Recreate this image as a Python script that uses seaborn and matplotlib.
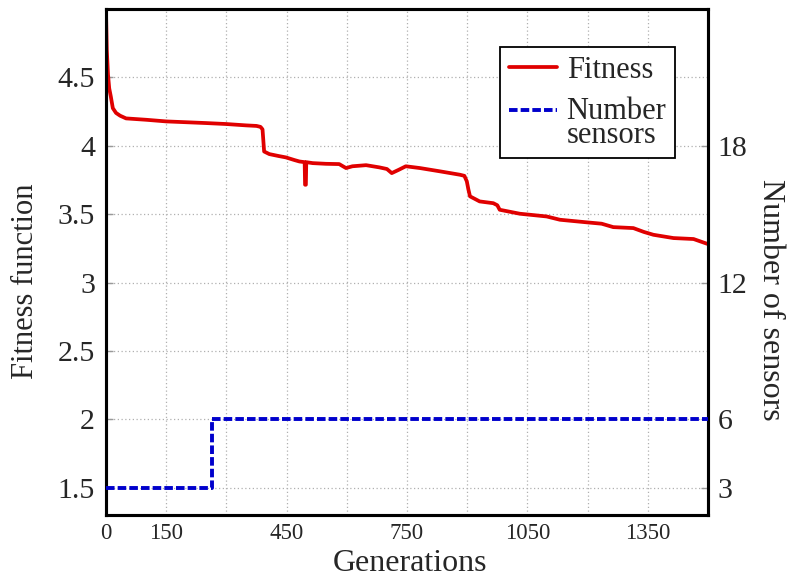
import numpy as np
import pandas as pd
import matplotlib
matplotlib.use("Agg")
import matplotlib.pyplot as plt
from matplotlib.legend_handler import HandlerLine2D
import seaborn as sns

# Fitness value per generation
fit_gen = [0, 2, 5, 8, 12, 17, 25, 35, 50, 75, 100, 150, 200, 249, 299,
           349, 375, 385, 390, 392, 394, 407, 430, 448, 470, 482, 495, 496,
           498, 499, 515, 548, 581, 598, 614, 648, 681, 700, 712, 730, 747,
           782, 832, 882, 893, 899, 903, 907, 931, 965, 975, 981, 1031,
           1098, 1131, 1198, 1235, 1264, 1314, 1340, 1364, 1414, 1464, 1497,
           1500]
fit_val = [4.98, 4.70, 4.52, 4.42, 4.36, 4.275, 4.24, 4.22, 4.20, 4.195,
           4.19, 4.178, 4.172, 4.166, 4.159, 4.149, 4.145, 4.138, 4.12,
           4.04, 3.958, 3.939, 3.925, 3.915, 3.895, 3.885, 3.88, 3.715,
           3.715, 3.88, 3.873, 3.868, 3.866, 3.837, 3.85, 3.858, 3.842,
           3.83, 3.80, 3.825, 3.85, 3.837, 3.813, 3.788, 3.78, 3.74, 3.68,
           3.63, 3.593, 3.58, 3.565, 3.532, 3.503, 3.483, 3.459, 3.44, 3.43,
           3.405, 3.398, 3.37, 3.349, 3.325, 3.318, 3.284, 3.282]

# Number of sensors (step changes)
sen_gen = [0, 264, 1500]
sen_val = [3, 6, 6]

x_ticks = [0, 150, 300, 450, 600, 750, 900, 1050, 1200, 1350, 1500]
x_labels = ["0", "150", "", "450", "", "750", "", "1050", "", "1350", ""]
y_ticks = [1.5, 2, 2.5, 3, 3.5, 4, 4.5]
y_labels = ["1.5", "2", "2.5", "3", "3.5", "4", "4.5"]
y2_ticks = [3, 6, 12, 18]
y2_labels = ["3", "6", "12", "18"]


class FirstLineHandler(HandlerLine2D):
    """Legend line aligned with the first line of a two-line label."""

    def __init__(self, shift=0.0, **kw):
        super().__init__(**kw)
        self.shift = shift

    def create_artists(self, legend, orig_handle, xdescent, ydescent,
                       width, height, fontsize, trans):
        arts = super().create_artists(legend, orig_handle, xdescent,
                                      ydescent, width, height, fontsize,
                                      trans)
        for a in arts:
            a.set_ydata(np.asarray(a.get_ydata()) + self.shift * fontsize)
        return arts


sns.set_theme(style="white")
plt.rcParams["font.family"] = ["Liberation Serif", "DejaVu Serif"]

fig = plt.figure(figsize=(7.9, 5.81), dpi=100, facecolor="white")
ax = fig.add_axes([106 / 790, 66 / 581, 602 / 790, 506 / 581])
ax2 = ax.twinx()

fit_df = pd.DataFrame({"gen": fit_gen, "fitness": fit_val})
sen_df = pd.DataFrame({"gen": sen_gen, "sensors": sen_val})

red = "#e00000"
blue = "#0000cc"

sns.lineplot(data=fit_df, x="gen", y="fitness", ax=ax, color=red,
             linewidth=2.7, estimator=None, sort=False, label="Fitness",
             legend=False, zorder=3)
sns.lineplot(data=sen_df, x="gen", y="sensors", ax=ax2, color=blue,
             linewidth=2.8, estimator=None, sort=False,
             drawstyle="steps-post", linestyle=(0, (2.2, 0.8)),
             label="Number\nsensors", legend=False, zorder=3)

ax.set_xlim(0, 1500)
ax.set_ylim(1.3, 5.0)
ax2.set_ylim(1.8, 24)

ax.set_xticks(x_ticks)
ax.set_xticklabels(x_labels, fontsize=16.5)
ax.set_yticks(y_ticks)
ax.set_yticklabels(y_labels, fontsize=21.5)
ax2.set_yticks(y2_ticks)
ax2.set_yticklabels(y2_labels, fontsize=21.5)

ax.grid(True, color="#b0b0b0", linestyle=(0, (1, 2)), linewidth=0.9)
ax.set_axisbelow(True)

ax.tick_params(axis="x", direction="in", length=5, width=1, color="#999999",
               pad=6)
ax.tick_params(axis="y", direction="in", length=5, width=1, color="#999999",
               pad=8)
ax2.tick_params(axis="y", direction="in", length=5, width=1, color="#999999",
                pad=7)

for a in (ax, ax2):
    for s in a.spines.values():
        s.set_color("black")
        s.set_linewidth(2.2)

ax.set_xlabel("Generations", fontsize=23, va="center")
ax.xaxis.set_label_coords(0.505, -0.095)
ax.set_ylabel("Fitness function", fontsize=22, va="center")
ax.yaxis.set_label_coords(-0.133, 0.4625)
ax2.set_ylabel("Number of sensors", fontsize=23, rotation=270,
               va="center", ha="center")
ax2.yaxis.set_label_coords(1.1035, 0.425)

h1, l1 = ax.get_legend_handles_labels()
h2, l2 = ax2.get_legend_handles_labels()
leg = ax2.legend(h1 + h2, l1 + l2, loc="upper left",
                 bbox_to_anchor=(0.6545, 0.925), borderaxespad=0,
                 fontsize=22, frameon=True, fancybox=False,
                 handlelength=1.6, handletextpad=0.3, borderpad=0.28,
                 labelspacing=0.42,
                 handler_map={h2[0]: FirstLineHandler(shift=0.45)})
leg.get_frame().set_edgecolor("black")
leg.get_frame().set_linewidth(1.3)
leg.get_frame().set_facecolor("white")
leg.get_frame().set_alpha(1)
for t in leg.get_texts():
    t.set_linespacing(0.75)

fig.savefig("out.png", dpi=100, facecolor="white")
